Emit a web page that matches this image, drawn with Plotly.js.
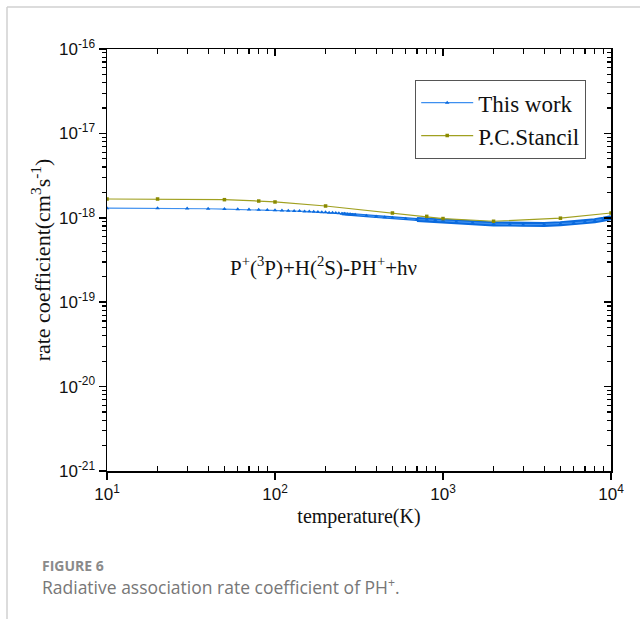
<!DOCTYPE html>
<html>
<head>
<meta charset="utf-8">
<script src="https://cdn.plot.ly/plotly-3.0.1.min.js"></script>
<style>
  html, body { margin: 0; padding: 0; background: #fff; }
  #chart { width: 640px; height: 619px; }
</style>
</head>
<body>
<div id="chart"></div>
<script>
// ---- data (rate coefficients in units of 1e-18 cm^3 s^-1) ----
const tempThisWork = [10,20,30,40,50,60,70,80,90,100,
  110,120,130,140,150,160,170,180,190,200,
  210,220,230,240,250,260,270,280,290,300,
  350,400,450,500,600,700,800,900,1000,1200,1500,2000,2500,3000,4000,5000,6000,7000,8000,9000,10000];
const rateThisWork = [1.30,1.30,1.29,1.28,1.27,1.26,1.255,1.245,1.235,1.225,
  1.22,1.21,1.205,1.20,1.19,1.185,1.18,1.17,1.165,1.16,
  1.15,1.145,1.14,1.13,1.12,1.115,1.105,1.10,1.09,1.085,
  1.06,1.035,1.015,1.00,0.975,0.955,0.945,0.935,0.925,0.90,0.875,0.845,0.835,0.83,0.835,0.85,0.87,0.895,0.925,0.96,1.0];

const tempStancil = [10,20,50,80,100,200,500,800,1000,2000,5000,10000];
const rateStancil = [1.67,1.67,1.64,1.58,1.54,1.38,1.14,1.04,0.98,0.91,0.99,1.14];

const xTickVals = [10,100,1000,10000];
const xTickText = ['10<sup>1</sup>','10<sup>2</sup>','10<sup>3</sup>','10<sup>4</sup>'];
const yTickVals = [1e-21,1e-20,1e-19,1e-18,1e-17,1e-16];
const yTickText = ['10<sup>-21</sup>','10<sup>-20</sup>','10<sup>-19</sup>','10<sup>-18</sup>','10<sup>-17</sup>','10<sup>-16</sup>'];

const seriesNames = ['This work','P.C.Stancil'];
const reactionLabel = 'P<sup>+</sup>(<sup>3</sup>P)+H(<sup>2</sup>S)-PH<sup>+</sup>+hν';

// ---- helpers ----
const scale = v => v * 1e-18;
const yThis = rateThisWork.map(scale);
const yStan = rateStancil.map(scale);

function minorVals(lo, hi) {
  const out = [];
  for (let e = lo; e < hi; e++) for (let d = 2; d <= 9; d++) out.push(d * Math.pow(10, e));
  return out;
}
const xMinor = minorVals(1, 4);
const yMinor = minorVals(-21, -16);

function sliceFrom(tmin) {
  const xs = [], ys = [];
  tempThisWork.forEach((t, i) => { if (t >= tmin) { xs.push(t); ys.push(yThis[i]); } });
  return {xs, ys};
}
const band1 = sliceFrom(250);
const band2 = sliceFrom(700);

const blue = '#3d8ff0';
const blueDark = '#0a6ade';
const olive = '#a0a020';
const oliveDark = '#8a8a00';

const traces = [
  {x: band1.xs, y: band1.ys, mode: 'lines', line: {color: blueDark, width: 3}, showlegend: false, hoverinfo: 'skip'},
  {x: band2.xs, y: band2.ys, mode: 'lines', line: {color: blueDark, width: 5}, showlegend: false, hoverinfo: 'skip'},
  {x: tempThisWork, y: yThis, name: seriesNames[0], mode: 'lines+markers',
   line: {color: blue, width: 1.2}, marker: {symbol: 'triangle-up', size: 4, color: blueDark}},
  {x: tempStancil, y: yStan, name: seriesNames[1], mode: 'lines+markers',
   line: {color: olive, width: 1.2}, marker: {symbol: 'square', size: 3.5, color: oliveDark}},
  // empty trace so the mirrored top/right frame axes are drawn
  {x: [], y: [], xaxis: 'x2', yaxis: 'y2', showlegend: false, hoverinfo: 'skip', mode: 'lines'}
];

const axisFont = {family: 'Arial', size: 17, color: '#111'};
const serif = 'Liberation Serif';

const L = 107, R = 611, T = 49, B = 471;
const px = x => (x - L) / (R - L);
const py = y => (B - y) / (B - T);

const layout = {
  width: 640, height: 619,
  margin: {l: L, r: 640 - R, t: T, b: 619 - B, pad: 0},
  paper_bgcolor: '#fff', plot_bgcolor: '#fff',
  showlegend: true,
  xaxis: {
    type: 'log', range: [1, 4], tickmode: 'array', tickvals: xTickVals, ticktext: xTickText,
    ticks: 'outside', ticklen: 7, tickwidth: 1.5, tickcolor: '#000',
    showline: true, linecolor: '#000', linewidth: 1.5, showgrid: false, zeroline: false,
    tickfont: axisFont,
    minor: {tickmode: 'array', tickvals: xMinor, ticks: 'inside', ticklen: 5, tickwidth: 1.2, tickcolor: '#000', showgrid: false},
    title: {text: 'temperature(K)', font: {family: serif, size: 20, color: '#111'}, standoff: 6}
  },
  xaxis2: {
    type: 'log', range: [1, 4], overlaying: 'x', side: 'top', anchor: 'y2', tickmode: 'array', tickvals: xTickVals,
    showticklabels: false, ticks: 'inside', ticklen: 7, tickwidth: 1.5, tickcolor: '#000',
    showline: true, linecolor: '#000', linewidth: 1.5, showgrid: false, zeroline: false,
    minor: {tickmode: 'array', tickvals: xMinor, ticks: 'inside', ticklen: 5, tickwidth: 1.2, tickcolor: '#000', showgrid: false}
  },
  yaxis: {
    type: 'log', range: [-21, -16], tickmode: 'array', tickvals: yTickVals, ticktext: yTickText,
    ticks: 'outside', ticklen: 7, tickwidth: 1.5, tickcolor: '#000',
    showline: true, linecolor: '#000', linewidth: 1.5, showgrid: false, zeroline: false,
    tickfont: axisFont,
    minor: {tickmode: 'array', tickvals: yMinor, ticks: 'outside', ticklen: 4, tickwidth: 1.2, tickcolor: '#000', showgrid: false},
    title: {text: 'rate coefficient(cm<sup>3</sup>s<sup>-1</sup>)', font: {family: serif, size: 22, color: '#111'}, standoff: 2}
  },
  yaxis2: {
    type: 'log', range: [-21, -16], overlaying: 'y', side: 'right', anchor: 'x2', tickmode: 'array', tickvals: yTickVals,
    showticklabels: false, ticks: 'inside', ticklen: 7, tickwidth: 1.5, tickcolor: '#000',
    showline: true, linecolor: '#000', linewidth: 1.5, showgrid: false, zeroline: false,
    minor: {tickmode: 'array', tickvals: yMinor, ticks: 'inside', ticklen: 4, tickwidth: 1.2, tickcolor: '#000', showgrid: false}
  },
  legend: {
    x: px(415), y: py(80), xanchor: 'left', yanchor: 'top',
    bgcolor: '#fff', bordercolor: '#555', borderwidth: 1.2,
    font: {family: serif, size: 23, color: '#111'},
    itemwidth: 52, tracegroupgap: 0
  },
  annotations: [
    {text: reactionLabel, xref: 'paper', yref: 'paper', x: px(323), y: py(266), xanchor: 'center', yanchor: 'middle',
     showarrow: false, font: {family: serif, size: 21, color: '#111'}},
    {text: '<b>FIGURE 6</b>', xref: 'paper', yref: 'paper', x: px(40), y: py(565), xanchor: 'left', yanchor: 'middle',
     showarrow: false, font: {family: 'Open Sans', size: 14, color: '#8a8a8a'}},
    {text: 'Radiative association rate coefficient of PH<sup>+</sup>.', xref: 'paper', yref: 'paper', x: px(40), y: py(586),
     xanchor: 'left', yanchor: 'middle', showarrow: false,
     font: {family: 'Open Sans', size: 17.5, color: '#777'}}
  ],
  shapes: [
    {type: 'line', xref: 'paper', yref: 'paper', x0: px(7), x1: px(7), y0: py(7), y1: py(640), line: {color: '#d0d0d0', width: 1.5}},
    {type: 'line', xref: 'paper', yref: 'paper', x0: px(7), x1: px(660), y0: py(7), y1: py(7), line: {color: '#d0d0d0', width: 1.5}}
  ]
};

Plotly.newPlot('chart', traces, layout, {displayModeBar: false, staticPlot: true});
</script>
</body>
</html>
